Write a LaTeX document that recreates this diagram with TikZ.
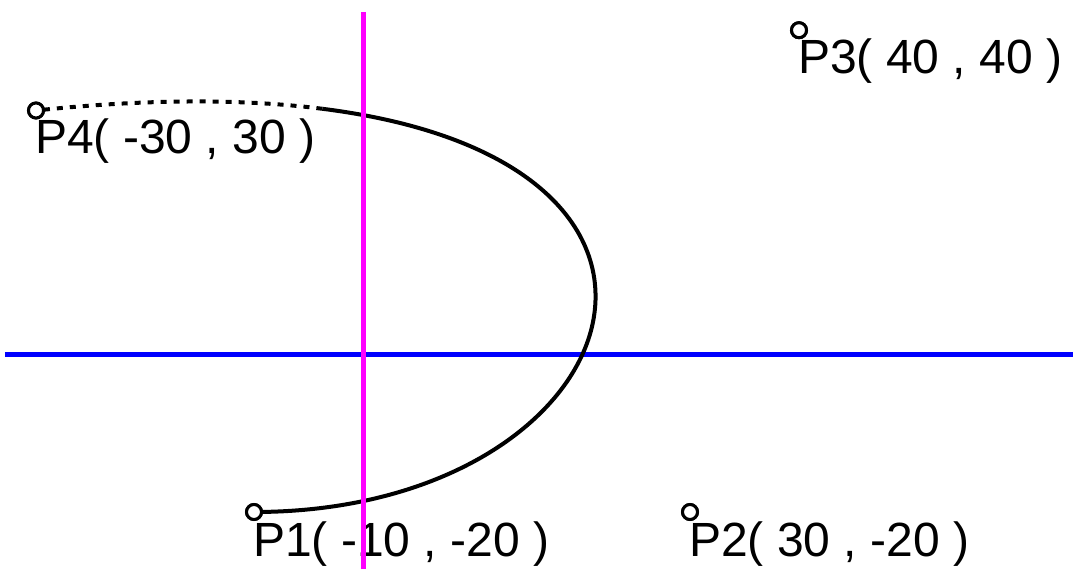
\documentclass[tikz,border=0pt]{standalone}
\usepackage{fontspec}
\setmainfont{Liberation Sans}
\definecolor{axisblue}{RGB}{0,0,255}
\definecolor{axismagenta}{RGB}{255,0,255}
\begin{document}
\begin{tikzpicture}[x=10.9pt,y=8.03pt,
  curve/.style={black,line width=4pt},
  curvedots/.style={black,line width=4pt,dash pattern=on 6pt off 7pt},
  ctrl/.style={circle,draw=black,fill=white,line width=3pt,minimum size=15pt,inner sep=0pt},
  lbl/.style={anchor=base west,inner sep=0pt,font=\fontsize{48}{52}\selectfont},
  xaxis/.style={draw=axisblue,line width=5pt},
  yaxis/.style={draw=axismagenta,line width=5pt}]
\useasboundingbox[fill=white] (-363pt,-217.6pt) rectangle (710pt,351.4pt);
% axis end points
\coordinate (xl) at (-358pt,-3.6pt);
\coordinate (xr) at (710pt,-3.6pt);
\coordinate (yb) at (0pt,-217.6pt);
\coordinate (yt) at (0pt,339.4pt);
\draw[xaxis] (xl) -- (xr);
% control points
\node[ctrl] (p1) at (-10,-20) {};
\node[ctrl] (p2) at (30,-20) {};
\node[ctrl] (p3) at (40,40) {};
\node[ctrl] (p4) at (-30,30) {};
% split of the Bezier curve at t=0.85
\coordinate (q0) at (24,-20);
\coordinate (r0) at (36.325,23.35);
\coordinate (s) at (-3.731,30.214);
\coordinate (r1) at (-10.8,31.425);
\coordinate (q2) at (-19.5,31.5);
\draw[curve] (p1.center) .. controls (q0) and (r0) .. (s);
\draw[curvedots] (s) .. controls (r1) and (q2) .. (p4.center);
% redraw markers on top
\foreach \p in {p1,p2,p3,p4}{\node[ctrl] at (\p) {};}
% labels
\node[lbl] (l1) at ([shift={(-1pt,-45pt)}]p1.center) {P1( -10 , -20 )};
\node[lbl] (l2) at ([shift={(-1pt,-45pt)}]p2.center) {P2( 30 , -20 )};
\node[lbl] (l3) at ([shift={(-1pt,-43pt)}]p3.center) {P3( 40 , 40 )};
\node[lbl] (l4) at ([shift={(-1pt,-43pt)}]p4.center) {P4( -30 , 30 )};
\draw[yaxis] (yb) -- (yt);
\end{tikzpicture}
\end{document}
